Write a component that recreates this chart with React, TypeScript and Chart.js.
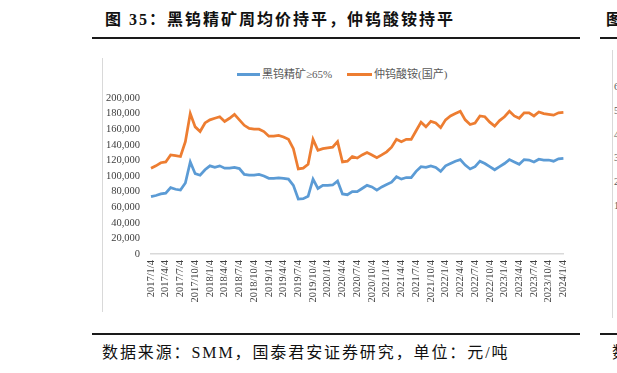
import React, { useEffect, useRef } from "react";
import { Chart, registerables } from "chart.js";

Chart.register(...registerables);

const categories: string[] = [
  "2017/1/4", "2017/2/4", "2017/3/4", "2017/4/4", "2017/5/4", "2017/6/4", "2017/7/4", "2017/8/4", "2017/9/4", "2017/10/4", "2017/11/4", "2017/12/4",
  "2018/1/4", "2018/2/4", "2018/3/4", "2018/4/4", "2018/5/4", "2018/6/4", "2018/7/4", "2018/8/4", "2018/9/4", "2018/10/4", "2018/11/4", "2018/12/4",
  "2019/1/4", "2019/2/4", "2019/3/4", "2019/4/4", "2019/5/4", "2019/6/4", "2019/7/4", "2019/8/4", "2019/9/4", "2019/10/4", "2019/11/4", "2019/12/4",
  "2020/1/4", "2020/2/4", "2020/3/4", "2020/4/4", "2020/5/4", "2020/6/4", "2020/7/4", "2020/8/4", "2020/9/4", "2020/10/4", "2020/11/4", "2020/12/4",
  "2021/1/4", "2021/2/4", "2021/3/4", "2021/4/4", "2021/5/4", "2021/6/4", "2021/7/4", "2021/8/4", "2021/9/4", "2021/10/4", "2021/11/4", "2021/12/4",
  "2022/1/4", "2022/2/4", "2022/3/4", "2022/4/4", "2022/5/4", "2022/6/4", "2022/7/4", "2022/8/4", "2022/9/4", "2022/10/4", "2022/11/4", "2022/12/4",
  "2023/1/4", "2023/2/4", "2023/3/4", "2023/4/4", "2023/5/4", "2023/6/4", "2023/7/4", "2023/8/4", "2023/9/4", "2023/10/4", "2023/11/4", "2023/12/4",
  "2024/1/4",
];

// Quarterly labels shown on the x axis
const tickLabels: string[] = [
  "2017/1/4", "2017/4/4", "2017/7/4", "2017/10/4",
  "2018/1/4", "2018/4/4", "2018/7/4", "2018/10/4",
  "2019/1/4", "2019/4/4", "2019/7/4", "2019/10/4",
  "2020/1/4", "2020/4/4", "2020/7/4", "2020/10/4",
  "2021/1/4", "2021/4/4", "2021/7/4", "2021/10/4",
  "2022/1/4", "2022/4/4", "2022/7/4", "2022/10/4",
  "2023/1/4", "2023/4/4", "2023/7/4", "2023/10/4",
  "2024/1/4",
];

// 黑钨精矿≥65% (元/吨)
const wolframite: number[] = [
  73500, 75000, 77000, 78000, 85000, 83000, 82000, 91000, 118000, 103000,
  101000, 108000, 113000, 111000, 113000, 110000, 110000, 111000, 109500, 102000,
  101000, 101000, 102000, 100000, 97000, 97000, 97500, 97000, 96000, 88000,
  70500, 71000, 74000, 96000, 84000, 88000, 88000, 88500, 93500, 77000,
  76000, 80000, 80000, 84000, 88000, 86000, 82000, 86000, 89000, 92000,
  99000, 96000, 98000, 98000, 106000, 112000, 111000, 113000, 111000, 106000,
  113000, 116000, 119000, 121000, 114000, 109000, 112000, 119000, 116000, 112000,
  108000, 112000, 116000, 121000, 118000, 115000, 121000, 120500, 118000, 121500,
  120500, 120500, 119000, 122000, 122500,
];

// 仲钨酸铵(国产) (元/吨)
const apt: number[] = [
  110000, 113000, 117000, 118000, 127000, 126000, 125000, 144000, 180000, 163000,
  157000, 168000, 172000, 174000, 176000, 170000, 174000, 179000, 172000, 165000,
  161000, 160000, 160000, 157000, 151000, 151000, 152000, 150000, 147000, 135000,
  109000, 110000, 115000, 147000, 133000, 135000, 136000, 137000, 144000, 118000,
  119000, 125000, 123000, 127000, 130000, 127000, 123500, 127000, 131000, 137000,
  147000, 144000, 147000, 147000, 158000, 169000, 163000, 170000, 168000, 162000,
  172000, 177000, 180000, 183000, 172000, 166000, 168000, 177000, 176000, 169000,
  164000, 171000, 176000, 183000, 177000, 174000, 181000, 181000, 177000, 182000,
  180000, 179000, 178000, 181000, 181500,
];

const seriesNames = ["黑钨精矿≥65%", "仲钨酸铵(国产)"];
const seriesColors = ["#5B9BD5", "#ED7D31"];

const CJK = '"Liberation Serif", "Noto Sans CJK SC", serif';

export default function App() {
  const ref = useRef<HTMLCanvasElement | null>(null);

  useEffect(() => {
    if (!ref.current) return;
    const chart = new Chart(ref.current, {
      type: "line",
      data: {
        labels: categories,
        datasets: [
          {
            label: seriesNames[0],
            data: wolframite,
            borderColor: seriesColors[0],
            backgroundColor: seriesColors[0],
            borderWidth: 2.75,
            pointRadius: 0,
            tension: 0,
          },
          {
            label: seriesNames[1],
            data: apt,
            borderColor: seriesColors[1],
            backgroundColor: seriesColors[1],
            borderWidth: 2.75,
            pointRadius: 0,
            tension: 0,
          },
        ],
      },
      options: {
        responsive: false,
        animation: false,
        devicePixelRatio: 1,
        layout: { padding: { top: 40, right: 12, left: 0, bottom: 0 } },
        plugins: {
          legend: { display: false },
          tooltip: { enabled: false },
        },
        scales: {
          x: {
            offset: false,
            grid: { display: false, drawTicks: false },
            border: { display: true, color: "#d9d9d9", width: 1.5 },
            ticks: {
              autoSkip: false,
              maxRotation: 90,
              minRotation: 90,
              padding: 6,
              color: "#404040",
              font: { family: "Liberation Serif", size: 10.5 },
              callback: (_v: any, i: number) =>
                tickLabels.includes(categories[i]) ? categories[i] : "",
            },
            afterFit: (s: any) => {
              s.height = 58;
            },
          },
          y: {
            min: 0,
            max: 200000,
            grid: { display: false, drawTicks: false },
            border: { display: false },
            ticks: {
              stepSize: 20000,
              padding: 11,
              color: "#404040",
              font: { family: "Liberation Serif", size: 10.5 },
              callback: (v: any) => Number(v).toLocaleString("en-US"),
            },
            afterFit: (s: any) => {
              s.width = 49;
            },
          },
        },
      },
    });
    return () => chart.destroy();
  }, []);

  const abs = (o: React.CSSProperties): React.CSSProperties => ({ position: "absolute", ...o });

  return (
    <div
      style={{
        position: "fixed",
        left: 0,
        top: 0,
        width: 617,
        height: 373,
        overflow: "hidden",
        background: "#fff",
      }}
    >
      {/* Title */}
      <div
        style={abs({
          left: 105,
          top: 11,
          fontFamily: CJK,
          fontSize: 16,
          lineHeight: "18px",
          fontWeight: 700,
          letterSpacing: "2px",
          color: "#111",
          whiteSpace: "nowrap",
        })}
      >
        图 35：黑钨精矿周均价持平，仲钨酸铵持平
      </div>
      <div style={abs({ left: 92, top: 37, width: 488, height: 2, background: "#1a1a1a" })} />

      {/* Chart frame left border */}
      <div style={abs({ left: 102, top: 58, width: 1, height: 254, background: "#d9d9d9" })} />

      {/* Legend */}
      <div style={abs({ left: 237, top: 73, width: 23, height: 3, background: seriesColors[0] })} />
      <div
        style={abs({
          left: 262,
          top: 68,
          fontFamily: CJK,
          fontSize: 11,
          lineHeight: "13px",
          color: "#595959",
          whiteSpace: "nowrap",
        })}
      >
        {seriesNames[0]}
      </div>
      <div style={abs({ left: 347, top: 73, width: 25, height: 3, background: seriesColors[1] })} />
      <div
        style={abs({
          left: 374,
          top: 68,
          fontFamily: CJK,
          fontSize: 11,
          lineHeight: "13px",
          color: "#595959",
          whiteSpace: "nowrap",
        })}
      >
        {seriesNames[1]}
      </div>

      {/* Chart */}
      <canvas
        ref={ref}
        width={480}
        height={254}
        style={abs({ left: 102, top: 58, width: 480, height: 254 })}
      />

      {/* Bottom rule and source */}
      <div style={abs({ left: 92, top: 333, width: 488, height: 2, background: "#1a1a1a" })} />
      <div
        style={abs({
          left: 102,
          top: 344,
          fontFamily: CJK,
          fontSize: 16,
          lineHeight: "18px",
          letterSpacing: "1.9px",
          color: "#111",
          whiteSpace: "nowrap",
        })}
      >
        数据来源：SMM，国泰君安证券研究，单位：元/吨
      </div>

      {/* Neighbouring panel, partly visible at right edge */}
      <div
        style={abs({
          left: 606,
          top: 11,
          fontFamily: CJK,
          fontSize: 16,
          lineHeight: "18px",
          fontWeight: 700,
          color: "#111",
          whiteSpace: "nowrap",
        })}
      >
        图
      </div>
      <div style={abs({ left: 600, top: 37, width: 17, height: 2, background: "#1a1a1a" })} />
      <div style={abs({ left: 612, top: 50, width: 1, height: 268, background: "#d9d9d9" })} />
      {["6", "5", "4", "3", "2", "1"].map((d, i) => (
        <div
          key={d}
          style={abs({
            left: 614,
            top: 81 + i * 23.8,
            fontFamily: "Liberation Serif",
            fontSize: 10.5,
            lineHeight: "12px",
            color: "#595959",
          })}
        >
          {d}
        </div>
      ))}
      <div style={abs({ left: 600, top: 333, width: 17, height: 2, background: "#1a1a1a" })} />
      <div
        style={abs({
          left: 612,
          top: 344,
          fontFamily: CJK,
          fontSize: 16,
          lineHeight: "18px",
          color: "#111",
          whiteSpace: "nowrap",
        })}
      >
        数
      </div>
    </div>
  );
}
